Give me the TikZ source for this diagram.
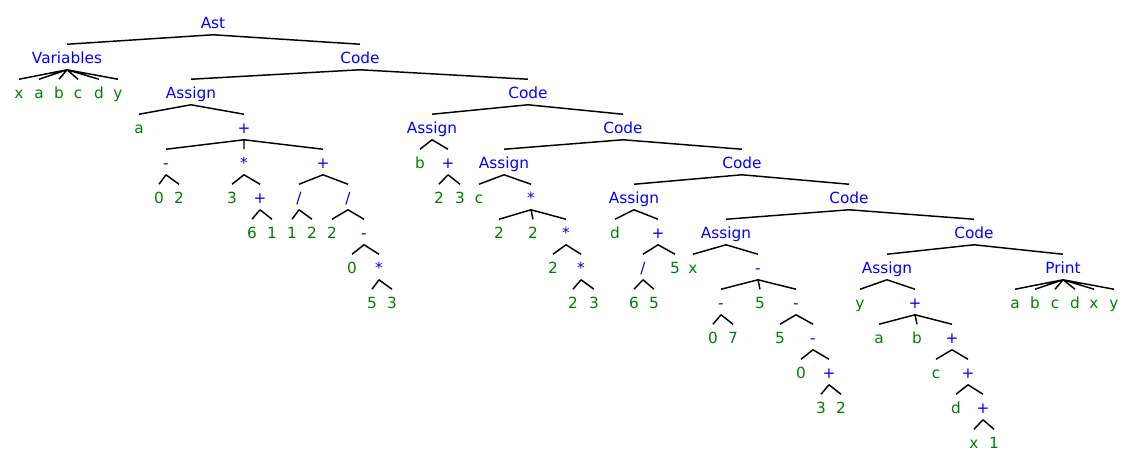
\documentclass[tikz,border=0pt]{standalone}
\usepackage{fontspec}
\setmainfont{DejaVu Sans}
\definecolor{nodeblue}{RGB}{0,0,255}
\definecolor{leafgreen}{RGB}{0,128,0}
\tikzset{
	tnode/.style={inner sep=0pt, text height=13.95pt, text depth=4.8pt},
	rule/.style={tnode, text=nodeblue},
	tok/.style={tnode, text=leafgreen},
	branch/.style={line width=1.1pt}
}
\begin{document}
\begin{tikzpicture}[x=0.75pt,y=-0.75pt,font=\fontsize{11.5}{14}\selectfont]
		\useasboundingbox (0,0) rectangle (1134,462);

		\node[rule] (ast) at (213,22) {Ast};
		\node[rule] (vars) at (67,57) {Variables};
		\node[tok] (vx) at (19,92) {x};
		\node[tok] (va) at (39,92) {a};
		\node[tok] (vb) at (59,92) {b};
		\node[tok] (vc) at (78,92) {c};
		\node[tok] (vd) at (99,92) {d};
		\node[tok] (vy) at (118,92) {y};
		\node[rule] (code1) at (360,57) {Code};

		% a
		\node[rule] (asg1) at (191,92) {Assign};
		\node[tok] (a1var) at (139,127) {a};
		\node[rule] (a1add) at (244,127) {+};
		\node[rule] (a1sub) at (166,162) {-};
		\node[tok] (a1s0) at (159,197) {0};
		\node[tok] (a1s2) at (179,197) {2};
		\node[rule] (a1mul) at (244,162) {*};
		\node[tok] (a1m3) at (232,197) {3};
		\node[rule] (a1madd) at (260,197) {+};
		\node[tok] (a1ma6) at (252,232) {6};
		\node[tok] (a1ma1) at (272,232) {1};
		\node[rule] (a1add2) at (323,162) {+};
		\node[rule] (a1div1) at (299,197) {/};
		\node[tok] (a1d1a) at (292,232) {1};
		\node[tok] (a1d1b) at (312,232) {2};
		\node[rule] (a1div2) at (348,197) {/};
		\node[tok] (a1d2a) at (332,232) {2};
		\node[rule] (a1d2sub) at (364,232) {-};
		\node[tok] (a1d2s0) at (352,267) {0};
		\node[rule] (a1d2mul) at (379,267) {*};
		\node[tok] (a1d2m5) at (372,302) {5};
		\node[tok] (a1d2m3) at (392,302) {3};

		% b
		\node[rule] (code2) at (528,92) {Code};
		\node[rule] (asg2) at (432,127) {Assign};
		\node[tok] (a2var) at (420,162) {b};
		\node[rule] (a2add) at (448,162) {+};
		\node[tok] (a2a2) at (439,197) {2};
		\node[tok] (a2a3) at (460,197) {3};

		% c
		\node[rule] (code3) at (623,127) {Code};
		\node[rule] (asg3) at (504,162) {Assign};
		\node[tok] (a3var) at (479,197) {c};
		\node[rule] (a3mul) at (531,197) {*};
		\node[tok] (a3m2a) at (499,232) {2};
		\node[tok] (a3m2b) at (533,232) {2};
		\node[rule] (a3mul2) at (566,232) {*};
		\node[tok] (a3mm2) at (553,267) {2};
		\node[rule] (a3mul3) at (581,267) {*};
		\node[tok] (a3mmm2) at (573,302) {2};
		\node[tok] (a3mmm3) at (594,302) {3};

		% d
		\node[rule] (code4) at (742,162) {Code};
		\node[rule] (asg4) at (634,197) {Assign};
		\node[tok] (a4var) at (615,232) {d};
		\node[rule] (a4add) at (658,232) {+};
		\node[rule] (a4div) at (643,267) {/};
		\node[tok] (a4d6) at (634,302) {6};
		\node[tok] (a4d5) at (654,302) {5};
		\node[tok] (a4a5) at (675,267) {5};

		% x
		\node[rule] (code5) at (849,197) {Code};
		\node[rule] (asg5) at (726,232) {Assign};
		\node[tok] (a5var) at (693,267) {x};
		\node[rule] (a5sub) at (758,267) {-};
		\node[rule] (a5sub1) at (721,302) {-};
		\node[tok] (a5s1a) at (713,337) {0};
		\node[tok] (a5s1b) at (733,337) {7};
		\node[tok] (a5s5) at (760,302) {5};
		\node[rule] (a5sub2) at (796,302) {-};
		\node[tok] (a5s2a) at (780,337) {5};
		\node[rule] (a5sub3) at (813,337) {-};
		\node[tok] (a5s3a) at (801,372) {0};
		\node[rule] (a5add) at (829,372) {+};
		\node[tok] (a5a3) at (821,407) {3};
		\node[tok] (a5a2) at (841,407) {2};

		% y
		\node[rule] (code6) at (974,232) {Code};
		\node[rule] (asg6) at (887,267) {Assign};
		\node[tok] (a6var) at (860,302) {y};
		\node[rule] (a6add1) at (915,302) {+};
		\node[tok] (a6a) at (879,337) {a};
		\node[tok] (a6b) at (917,337) {b};
		\node[rule] (a6add2) at (952,337) {+};
		\node[tok] (a6c) at (936,372) {c};
		\node[rule] (a6add3) at (968,372) {+};
		\node[tok] (a6d) at (956,407) {d};
		\node[rule] (a6add4) at (983,407) {+};
		\node[tok] (a6x) at (974,442) {x};
		\node[tok] (a6one) at (994,442) {1};

		% print
		\node[rule] (prt) at (1063,267) {Print};
		\node[tok] (pa) at (1015,302) {a};
		\node[tok] (pb) at (1035,302) {b};
		\node[tok] (pc) at (1055,302) {c};
		\node[tok] (pd) at (1075,302) {d};
		\node[tok] (px) at (1094,302) {x};
		\node[tok] (py) at (1114,302) {y};

		\draw[branch] (ast.south) -- (vars.north) (ast.south) -- (code1.north);
		\draw[branch] (vars.south) -- (vx.north) (vars.south) -- (va.north) (vars.south) -- (vb.north)
			(vars.south) -- (vc.north) (vars.south) -- (vd.north) (vars.south) -- (vy.north);
		\draw[branch] (code1.south) -- (asg1.north) (code1.south) -- (code2.north);
		\draw[branch] (asg1.south) -- (a1var.north) (asg1.south) -- (a1add.north);
		\draw[branch] (a1add.south) -- (a1sub.north) (a1add.south) -- (a1mul.north) (a1add.south) -- (a1add2.north);
		\draw[branch] (a1sub.south) -- (a1s0.north) (a1sub.south) -- (a1s2.north);
		\draw[branch] (a1mul.south) -- (a1m3.north) (a1mul.south) -- (a1madd.north);
		\draw[branch] (a1madd.south) -- (a1ma6.north) (a1madd.south) -- (a1ma1.north);
		\draw[branch] (a1add2.south) -- (a1div1.north) (a1add2.south) -- (a1div2.north);
		\draw[branch] (a1div1.south) -- (a1d1a.north) (a1div1.south) -- (a1d1b.north);
		\draw[branch] (a1div2.south) -- (a1d2a.north) (a1div2.south) -- (a1d2sub.north);
		\draw[branch] (a1d2sub.south) -- (a1d2s0.north) (a1d2sub.south) -- (a1d2mul.north);
		\draw[branch] (a1d2mul.south) -- (a1d2m5.north) (a1d2mul.south) -- (a1d2m3.north);

		\draw[branch] (code2.south) -- (asg2.north) (code2.south) -- (code3.north);
		\draw[branch] (asg2.south) -- (a2var.north) (asg2.south) -- (a2add.north);
		\draw[branch] (a2add.south) -- (a2a2.north) (a2add.south) -- (a2a3.north);

		\draw[branch] (code3.south) -- (asg3.north) (code3.south) -- (code4.north);
		\draw[branch] (asg3.south) -- (a3var.north) (asg3.south) -- (a3mul.north);
		\draw[branch] (a3mul.south) -- (a3m2a.north) (a3mul.south) -- (a3m2b.north) (a3mul.south) -- (a3mul2.north);
		\draw[branch] (a3mul2.south) -- (a3mm2.north) (a3mul2.south) -- (a3mul3.north);
		\draw[branch] (a3mul3.south) -- (a3mmm2.north) (a3mul3.south) -- (a3mmm3.north);

		\draw[branch] (code4.south) -- (asg4.north) (code4.south) -- (code5.north);
		\draw[branch] (asg4.south) -- (a4var.north) (asg4.south) -- (a4add.north);
		\draw[branch] (a4add.south) -- (a4div.north) (a4add.south) -- (a4a5.north);
		\draw[branch] (a4div.south) -- (a4d6.north) (a4div.south) -- (a4d5.north);

		\draw[branch] (code5.south) -- (asg5.north) (code5.south) -- (code6.north);
		\draw[branch] (asg5.south) -- (a5var.north) (asg5.south) -- (a5sub.north);
		\draw[branch] (a5sub.south) -- (a5sub1.north) (a5sub.south) -- (a5s5.north) (a5sub.south) -- (a5sub2.north);
		\draw[branch] (a5sub1.south) -- (a5s1a.north) (a5sub1.south) -- (a5s1b.north);
		\draw[branch] (a5sub2.south) -- (a5s2a.north) (a5sub2.south) -- (a5sub3.north);
		\draw[branch] (a5sub3.south) -- (a5s3a.north) (a5sub3.south) -- (a5add.north);
		\draw[branch] (a5add.south) -- (a5a3.north) (a5add.south) -- (a5a2.north);

		\draw[branch] (code6.south) -- (asg6.north) (code6.south) -- (prt.north);
		\draw[branch] (asg6.south) -- (a6var.north) (asg6.south) -- (a6add1.north);
		\draw[branch] (a6add1.south) -- (a6a.north) (a6add1.south) -- (a6b.north) (a6add1.south) -- (a6add2.north);
		\draw[branch] (a6add2.south) -- (a6c.north) (a6add2.south) -- (a6add3.north);
		\draw[branch] (a6add3.south) -- (a6d.north) (a6add3.south) -- (a6add4.north);
		\draw[branch] (a6add4.south) -- (a6x.north) (a6add4.south) -- (a6one.north);

		\draw[branch] (prt.south) -- (pa.north) (prt.south) -- (pb.north) (prt.south) -- (pc.north)
			(prt.south) -- (pd.north) (prt.south) -- (px.north) (prt.south) -- (py.north);
	\end{tikzpicture}
\end{document}
